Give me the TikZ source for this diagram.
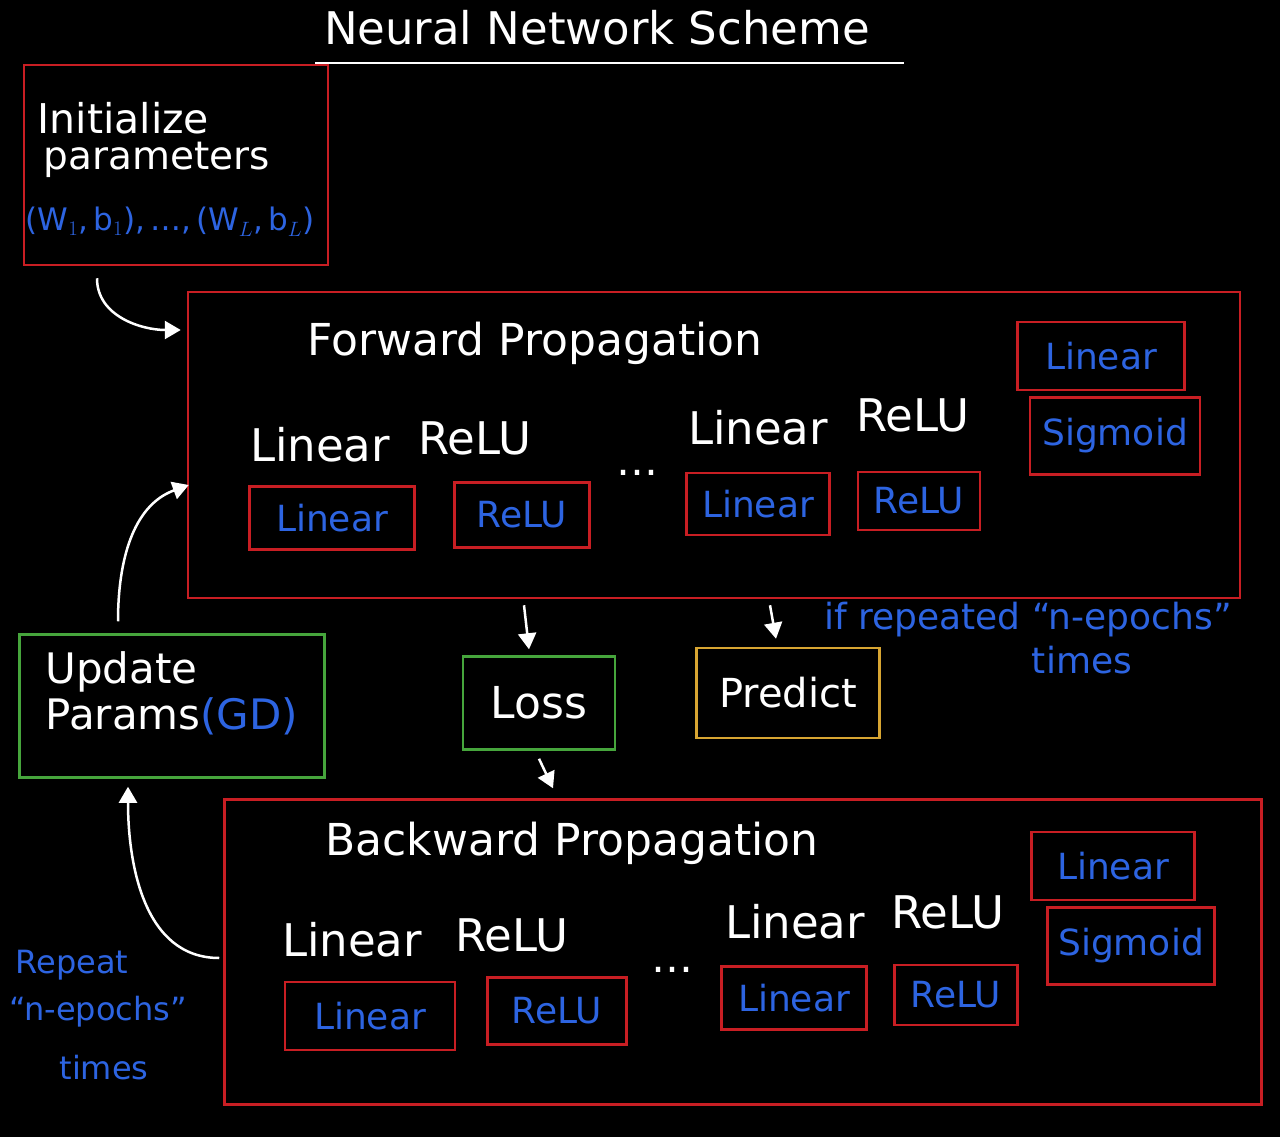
\documentclass[tikz,border=0pt]{standalone}
\usepackage{fontspec}
\setmainfont{DejaVu Sans}
\usepackage{xcolor}
\usetikzlibrary{positioning, arrows.meta}

\definecolor{penred}{RGB}{200,30,35}
\definecolor{penblue}{RGB}{45,100,225}
\definecolor{pengreen}{RGB}{70,165,60}
\definecolor{pengold}{RGB}{215,165,50}

\begin{document}
\begin{tikzpicture}[
        x=1pt, y=-1pt,
        panel/.style={rectangle, draw=penred, line width=2.5pt, inner sep=0pt},
        layer/.style={rectangle, draw=penred, line width=2.2pt, inner sep=0pt,
            text=penblue, font=\fontsize{36}{40}\selectfont},
        tag/.style={text=white, font=\fontsize{42}{48}\selectfont},
        heading/.style={text=white, font=\fontsize{44}{50}\selectfont},
        note/.style={text=penblue, font=\fontsize{36}{40}\selectfont},
        arrow/.style={-{Triangle[length=16pt,width=18pt]}, white, line width=2.5pt}
    ]
        \fill[black] (0,0) rectangle (1280,1137);
        \useasboundingbox (0,0) rectangle (1280,1137);

        % title
        \node[text=white, font=\fontsize{45}{50}\selectfont] (title) at (597,28) {Neural Network Scheme};
        \draw[white, line width=2pt] ([xshift=-5pt,yshift=-14pt]title.south west) -- ([xshift=30pt,yshift=-14pt]title.south east);

        % initialize
        \node[panel, minimum width=304pt, minimum height=200pt] (init) at (176,165) {};
        \node[tag, anchor=west, font=\fontsize{41}{46}\selectfont] (initA) at (34,118) {Initialize};
        \node[tag, anchor=west, font=\fontsize{39}{44}\selectfont] (initB) at (40,160) {parameters};
        \node[note, font=\fontsize{31}{34}\selectfont] (initW) at (170,222) {(W$_1$,\,b$_1$),\,…,\,(W$_L$,\,b$_L$)};

        % forward propagation
        \node[panel, minimum width=1052pt, minimum height=306pt] (fwd) at (714,445) {};
        \node[heading] (fwdT) at (535,343) {Forward Propagation};
        \node[tag, font=\fontsize{45}{50}\selectfont] (fwdLa) at (320,445) {Linear};
        \node[tag, font=\fontsize{45}{50}\selectfont] (fwdRa) at (475,438) {ReLU};
        \node[tag, font=\fontsize{45}{50}\selectfont] (fwdLb) at (758,428) {Linear};
        \node[tag, font=\fontsize{45}{50}\selectfont] (fwdRb) at (913,415) {ReLU};
        \node[tag] (fwdDots) at (637,473) {…};
        \node[layer, minimum width=165pt, minimum height=63pt] (fl1) at (332,518) {Linear};
        \node[layer, minimum width=135pt, minimum height=65pt] (fr1) at (522,515) {ReLU};
        \node[layer, minimum width=143pt, minimum height=62pt] (fl2) at (758,504) {Linear};
        \node[layer, minimum width=122pt, minimum height=58pt] (fr2) at (919,501) {ReLU};
        \node[layer, minimum width=167pt, minimum height=68pt] (fls) at (1101,356) {Linear};
        \node[layer, minimum width=170pt, minimum height=77pt] (fsg) at (1115,436) {Sigmoid};

        % loss and predict
        \node[rectangle, draw=pengreen, line width=2.5pt, minimum width=152pt, minimum height=93pt,
            tag, font=\fontsize{44}{48}\selectfont] (loss) at (539,703) {Loss};
        \node[rectangle, draw=pengold, line width=2.5pt, minimum width=183pt, minimum height=90pt,
            tag, font=\fontsize{40}{44}\selectfont] (pred) at (788,693) {Predict};
        \node[note] (ifrep) at (1028,620) {if repeated “n-epochs”};
        \node[note] (ifrepB) at (1082,660) {times};

        % update
        \node[rectangle, draw=pengreen, line width=2.5pt, minimum width=305pt, minimum height=143pt] (upd) at (172,706) {};
        \node[tag, anchor=west] (updA) at (42,672) {Update};
        \node[tag, anchor=west] (updB) at (42,716) {Params{\color{penblue}(GD)}};

        % backward propagation
        \node[panel, minimum width=1037pt, minimum height=305pt] (bwd) at (743,952) {};
        \node[heading] (bwdT) at (572,843) {Backward Propagation};
        \node[tag, font=\fontsize{45}{50}\selectfont] (bwdLa) at (352,940) {Linear};
        \node[tag, font=\fontsize{45}{50}\selectfont] (bwdRa) at (512,935) {ReLU};
        \node[tag, font=\fontsize{45}{50}\selectfont] (bwdLb) at (795,922) {Linear};
        \node[tag, font=\fontsize{45}{50}\selectfont] (bwdRb) at (948,912) {ReLU};
        \node[tag] (bwdDots) at (672,970) {…};
        \node[layer, minimum width=170pt, minimum height=68pt] (bl1) at (370,1016) {Linear};
        \node[layer, minimum width=139pt, minimum height=67pt] (br1) at (557,1011) {ReLU};
        \node[layer, minimum width=145pt, minimum height=63pt] (bl2) at (794,998) {Linear};
        \node[layer, minimum width=123pt, minimum height=60pt] (br2) at (956,995) {ReLU};
        \node[layer, minimum width=163pt, minimum height=68pt] (bls) at (1113,866) {Linear};
        \node[layer, minimum width=167pt, minimum height=77pt] (bsg) at (1131,946) {Sigmoid};

        % repeat note
        \node[note, font=\fontsize{32}{36}\selectfont] (repA) at (72,965) {Repeat};
        \node[note, font=\fontsize{32}{36}\selectfont] (repB) at (98,1012) {“n-epochs”};
        \node[note, font=\fontsize{32}{36}\selectfont] (repC) at (104,1068) {times};

        % connectors
        \draw[arrow] ([xshift=-79pt,yshift=-12pt]init.south) to[out=-90,in=180] ([xshift=-6pt,yshift=115pt]fwd.west);
        \draw[arrow] ([xshift=-54pt,yshift=12pt]upd.north) to[out=90,in=200] ([xshift=2pt,yshift=-40pt]fwd.west);
        \draw[arrow] ([xshift=-4pt,yshift=-6pt]bwd.west) to[out=180,in=-90] ([xshift=-44pt,yshift=-8pt]upd.south);
        \draw[arrow] ([xshift=-190pt,yshift=-6pt]fwd.south) -- ([xshift=-10pt,yshift=6pt]loss.north);
        \draw[arrow] ([xshift=56pt,yshift=-6pt]fwd.south) -- ([xshift=-12pt,yshift=8pt]pred.north);
        \draw[arrow] ([xshift=0pt,yshift=-8pt]loss.south) -- ([xshift=-190pt,yshift=10pt]bwd.north);
\end{tikzpicture}
\end{document}
